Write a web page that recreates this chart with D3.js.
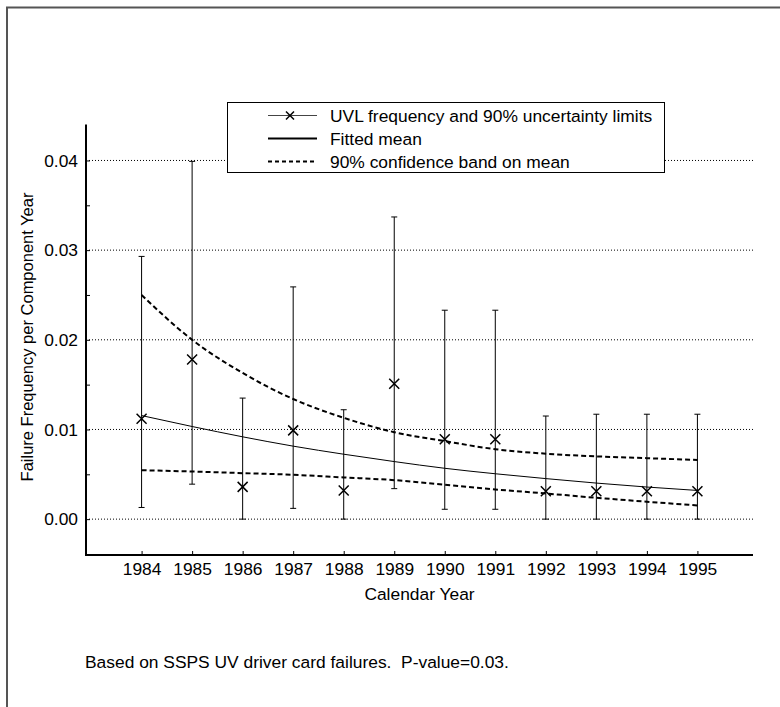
<!DOCTYPE html>
<html><head><meta charset="utf-8">
<script src="https://cdn.jsdelivr.net/npm/d3@7"></script>
<style>
html,body{margin:0;padding:0;background:#fff;}
text{font-family:"Liberation Sans",Arial,Helvetica,sans-serif;fill:#000;}
</style></head>
<body><svg id="c" width="780" height="707"></svg>
<script>
const years = [1984,1985,1986,1987,1988,1989,1990,1991,1992,1993,1994,1995];
const freq  = [0.0112,0.0178,0.0036,0.0099,0.0032,0.0151,0.0089,0.0089,0.0031,0.0031,0.0031,0.0031];
const upper = [0.0293,0.0399,0.0135,0.0259,0.0122,0.0337,0.0233,0.0233,0.0115,0.0117,0.0117,0.0117];
const lower = [0.0013,0.0039,0.0000,0.0012,0.0000,0.0034,0.0011,0.0011,0.0000,0.0000,0.0000,0.0000];
const fitMean = [0.01155,0.01033,0.00918,0.00814,0.00724,0.00642,0.00567,0.00506,0.00452,0.00402,0.00358,0.00320];
const bandHi  = [0.0250,0.0200,0.0163,0.0134,0.0113,0.0097,0.0087,0.0078,0.0073,0.0070,0.0068,0.0066];
const bandLo  = [0.00546,0.00531,0.00513,0.00495,0.00465,0.00435,0.00383,0.00331,0.00286,0.00238,0.00194,0.00153];
const yMajor = [0.00,0.01,0.02,0.03,0.04];
const yMinor = [0.005,0.015,0.025,0.035];
const legendItems = ["UVL frequency and 90% uncertainty limits","Fitted mean","90% confidence band on mean"];
const xTitle = "Calendar Year";
const yTitle = "Failure Frequency per Component Year";
const note = "Based on SSPS UV driver card failures.\u00a0\u00a0P-value=0.03.";

const svg = d3.select("#c");
const fs = 17.4;
// outer frame
svg.append("rect").attr("x",7).attr("y",7.5).attr("width",800).attr("height",720)
  .attr("fill","none").attr("stroke","#555").attr("stroke-width",2);

const L=86, R=753, T=124.6, B=555;
const x = d3.scaleLinear().domain([1982.9,1996.1]).range([L,R]);
const y = d3.scaleLinear().domain([-0.004,0.044]).range([B,T]);

// gridlines
svg.append("g").selectAll("line").data(yMajor).join("line")
  .attr("x1",L).attr("x2",R).attr("y1",d=>y(d)).attr("y2",d=>y(d))
  .attr("stroke","#000").attr("stroke-width",1).attr("stroke-dasharray","1,2");

// y axis
const ya = svg.append("g").attr("transform",`translate(${L},0)`)
  .call(d3.axisLeft(y).tickValues(yMajor.concat(yMinor).sort()).tickSize(-4).tickPadding(8)
    .tickFormat(d=> yMajor.includes(d) ? d3.format(".2f")(d) : ""));
ya.select(".domain").remove();
ya.selectAll(".tick line").attr("stroke","#000");
ya.selectAll(".tick text").style("font-size",fs+"px").attr("font-family",null);

// x axis
const xa = svg.append("g").attr("transform",`translate(0,${B})`)
  .call(d3.axisBottom(x).tickValues(years).tickSize(-4).tickPadding(8).tickFormat(d3.format("d")));
xa.select(".domain").remove();
xa.selectAll(".tick line").attr("stroke","#000");
xa.selectAll(".tick text").style("font-size",fs+"px").attr("font-family",null);

// axis lines
svg.append("line").attr("x1",L).attr("x2",L).attr("y1",T).attr("y2",B+1).attr("stroke","#000").attr("stroke-width",2);
svg.append("line").attr("x1",L-1).attr("x2",R).attr("y1",B).attr("y2",B).attr("stroke","#000").attr("stroke-width",2);

// error bars
const eb = svg.append("g");
years.forEach((yr,i)=>{
  const cx = x(yr);
  eb.append("line").attr("x1",cx).attr("x2",cx).attr("y1",y(upper[i])).attr("y2",y(lower[i])).attr("stroke","#000").attr("stroke-width",1);
  [upper[i],lower[i]].forEach(v=>{
    eb.append("line").attr("x1",cx-3).attr("x2",cx+3).attr("y1",y(v)).attr("y2",y(v)).attr("stroke","#000").attr("stroke-width",1);
  });
});

// curves
const line = d3.line().x((d,i)=>x(years[i])).y(d=>y(d)).curve(d3.curveMonotoneX);
svg.append("path").attr("d",line(fitMean)).attr("fill","none").attr("stroke","#000").attr("stroke-width",1);
[bandHi,bandLo].forEach(arr=>{
  svg.append("path").attr("d",line(arr)).attr("fill","none").attr("stroke","#000").attr("stroke-width",2).attr("stroke-dasharray","5,3");
});

// markers
const ms = 5;
svg.append("g").selectAll("path").data(freq).join("path")
  .attr("d",(d,i)=>{const cx=x(years[i]), cy=y(d); return `M${cx-ms},${cy-ms}L${cx+ms},${cy+ms}M${cx-ms},${cy+ms}L${cx+ms},${cy-ms}`;})
  .attr("stroke","#000").attr("stroke-width",1.5).attr("fill","none");

// legend
const lg = svg.append("g");
lg.append("rect").attr("x",227.5).attr("y",102.5).attr("width",437).attr("height",70).attr("fill","#fff").attr("stroke","#000").attr("stroke-width",1);
const rowY = [115.5,138.5,161.5];
legendItems.forEach((t,i)=>{
  const ly = rowY[i];
  const ln = lg.append("line").attr("x1",268).attr("x2",317).attr("y1",ly).attr("y2",ly).attr("stroke","#000");
  if(i===0){ ln.attr("stroke-width",1).attr("stroke","#444");
    lg.append("path").attr("d",`M${290-4},${ly-4}L${290+4},${ly+4}M${290-4},${ly+4}L${290+4},${ly-4}`).attr("stroke","#000").attr("stroke-width",1.5);
  } else if(i===1){ ln.attr("stroke-width",2); }
  else { ln.attr("stroke-width",2).attr("stroke-dasharray","4,3"); }
  lg.append("text").attr("x",330).attr("y",ly+6).style("font-size",fs+"px").text(t);
});

// titles
svg.append("text").attr("x",(L+R)/2).attr("y",600).attr("text-anchor","middle").style("font-size",fs+"px").text(xTitle);
svg.append("text").attr("transform",`translate(33,337) rotate(-90)`).attr("text-anchor","middle").style("font-size","16.5px").text(yTitle);
svg.append("text").attr("x",85).attr("y",668).style("font-size",fs+"px").text(note);
</script></body></html>
